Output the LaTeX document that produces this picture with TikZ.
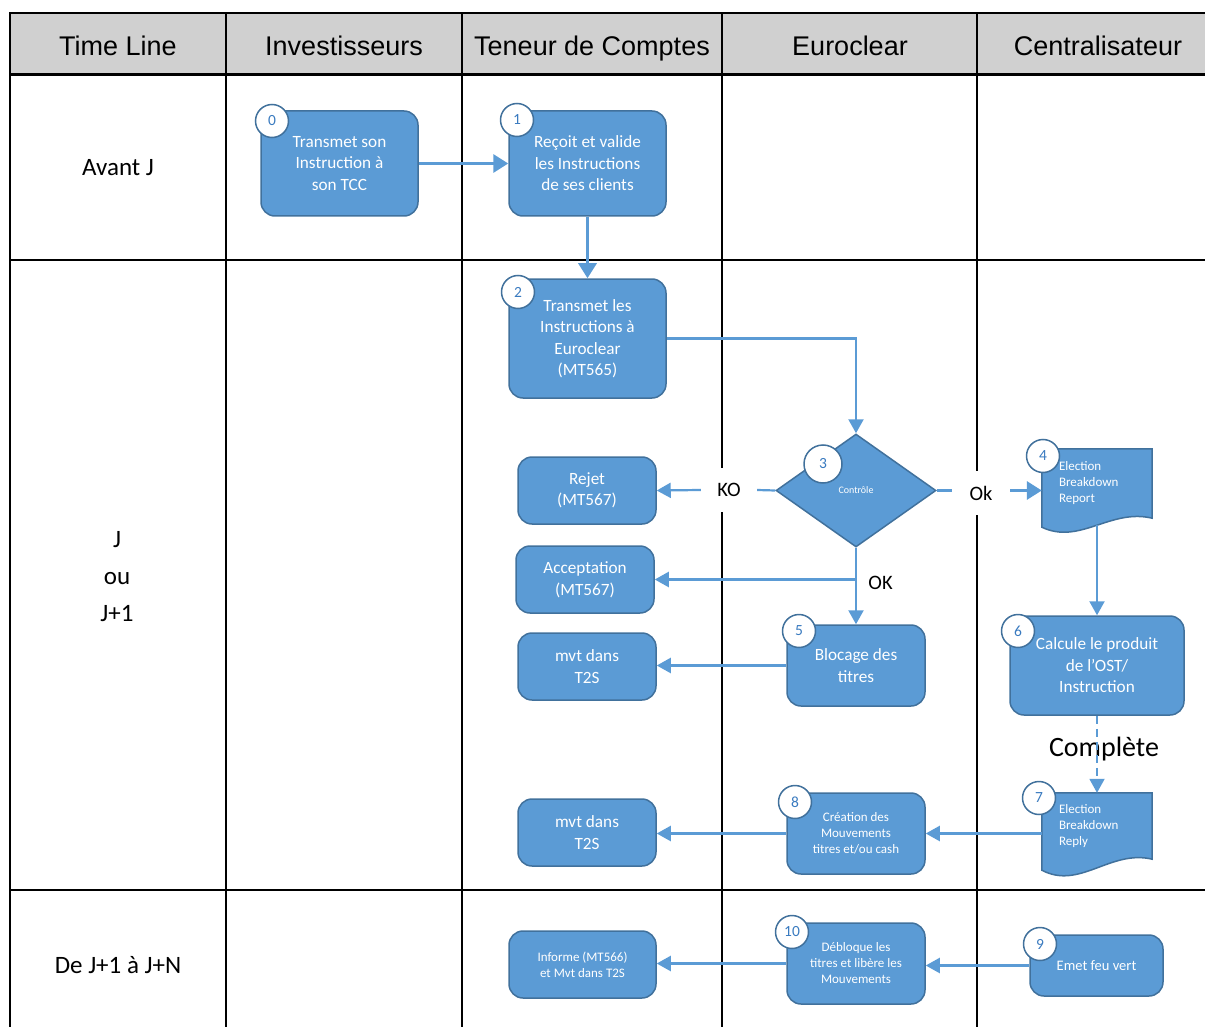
\documentclass[tikz,border=0pt]{standalone}
\usepackage{fontspec}
\setmainfont{Carlito}
\newfontfamily\hdfont{Liberation Sans}
\usetikzlibrary{arrows.meta,shapes.geometric,backgrounds}
\definecolor{blu}{HTML}{5B9BD5}
\definecolor{bdr}{HTML}{41719C}
\definecolor{numc}{HTML}{3A7BC0}
\definecolor{hdgray}{HTML}{D0D0D0}

\begin{document}
\begin{tikzpicture}[x=1pt, y=-1pt,
  box/.style={rectangle, rounded corners=14pt, draw=bdr, fill=blu, line width=1.5pt, text=white, align=center, inner sep=0pt},
  doc/.style={rectangle, draw=none, text=white, align=left, inner sep=0pt, text width=76pt, font=\fontsize{13}{16}\selectfont},
  dec/.style={diamond, draw=bdr, fill=blu, line width=1.5pt, text=white, inner sep=0pt, minimum width=160pt, minimum height=113pt, font=\fontsize{10}{12}\selectfont},
  num/.style={circle, draw=bdr, fill=white, line width=1.5pt, text=numc, minimum size=33pt, inner sep=0pt, font=\fontsize{15.5}{15.5}\selectfont},
  big/.style={font=\fontsize{17.2}{21.5}\selectfont},
  small/.style={font=\fontsize{13}{16}\selectfont},
  head/.style={font=\hdfont\fontsize{27}{30}\selectfont, text height=20pt, text depth=6pt},
  rowlbl/.style={align=center, font=\fontsize{25}{37}\selectfont},
  lbl/.style={fill=white, inner sep=0pt, minimum width=56pt, minimum height=44pt, font=\fontsize{20.5}{24}\selectfont},
  flow/.style={draw=blu, line width=2.2pt, -{Triangle[length=14pt,width=15pt]}},
  bigflow/.style={draw=blu, line width=3.2pt, -{Triangle[length=15pt,width=18pt]}},
  tbl/.style={draw=black, line width=2pt}]
  \useasboundingbox (0,0) rectangle (1205,1027);

  \fill[hdgray] (10,13) rectangle (1205,75);
  \draw[tbl] (1205,13) -- (10,13) -- (10,1027);
  \foreach \x in {226,462,722,977}
    \draw[tbl] (\x,13) -- (\x,1027);
  \draw[tbl, line width=3pt] (10,75) -- (1205,75);
  \foreach \y in {260,890}
    \draw[tbl] (10,\y) -- (1205,\y);

  \node[head] (hTime) at (118,49) {Time Line};
  \node[head] (hInv) at (344,49) {Investisseurs};
  \node[head] (hTcc) at (592,49) {Teneur de Comptes};
  \node[head] (hEuro) at (850,49) {Euroclear};
  \node[head] (hCent) at (1098,49) {Centralisateur};

  \node[rowlbl] (rAvant) at (118,168) {Avant J};
  \node[rowlbl] (rJour) at (117,577) {J\\ou\\J+1};
  \node[rowlbl] (rApres) at (118,965) {De J+1 à J+N};

  \node[box, big, minimum width=157pt, minimum height=105pt] (n0) at (339.5,163.5) {Transmet son\\Instruction à\\son TCC};
  \node[box, big, minimum width=157pt, minimum height=105pt] (n1) at (587.5,163.5) {Reçoit et valide\\les Instructions\\de ses clients};
  \node[box, big, minimum width=157pt, minimum height=119pt] (n2) at (587.5,338.5) {Transmet les\\Instructions à\\Euroclear\\(MT565)};
  \node[dec] (n3) at (856,490.5) {Contrôle};
  \node[doc, minimum width=110pt, minimum height=69pt] (n4) at (1097,483.5) {Election\\Breakdown\\Report};
  \node[box, big, minimum width=138pt, minimum height=67pt] (rejet) at (587,490.5) {Rejet\\(MT567)};
  \node[box, big, minimum width=138pt, minimum height=67pt] (accept) at (585,579.5) {Acceptation\\(MT567)};
  \node[box, big, minimum width=138pt, minimum height=67pt] (mvt1) at (587,666.5) {mvt dans\\T2S};
  \node[box, big, minimum width=138pt, minimum height=81pt] (n5) at (856,665.5) {Blocage des\\titres};
  \node[box, big, minimum width=174pt, minimum height=99pt] (n6) at (1097,665.5) {Calcule le produit\\de l'OST/\\Instruction};
  \node[doc, minimum width=110pt, minimum height=66pt] (n7) at (1097,826) {Election\\Breakdown\\Reply};
  \node[box, small, minimum width=138pt, minimum height=81pt] (n8) at (856,833.5) {Création des\\Mouvements\\titres et/ou cash};
  \node[box, big, minimum width=138pt, minimum height=67pt] (mvt2) at (587,832.5) {mvt dans\\T2S};
  \node[box, small, minimum width=133pt, minimum height=61pt, font=\fontsize{14.5}{18}\selectfont] (n9) at (1096.5,965.5) {Emet feu vert};
  \node[box, small, minimum width=138pt, minimum height=81pt] (n10) at (856,963.5) {Débloque les\\titres et libère les\\Mouvements};
  \node[box, small, minimum width=147pt, minimum height=67pt] (info) at (582.5,964.5) {Informe (MT566)\\et Mvt dans T2S};

  \begin{scope}[on background layer]
    \draw[draw=bdr, fill=blu, line width=1.5pt] (n4.north west) -- (n4.north east) -- (n4.south east)
      .. controls +(-42,-10) and +(38,18) .. ([yshift=-9pt]n4.south west) -- cycle;
    \draw[draw=bdr, fill=blu, line width=1.5pt] (n7.north west) -- (n7.north east) -- (n7.south east)
      .. controls +(-42,-10) and +(38,20) .. ([yshift=-11pt]n7.south west) -- cycle;
  \end{scope}

  \node[lbl] (ko) at (729,490) {KO};
  \node[lbl, minimum width=58pt] (ok) at (981,493) {Ok};
  \node[font=\fontsize{28}{30}\selectfont] (cpl) at (1104,749) {Complète};

  \draw[bigflow] (n0.east) -- (n1.west);
  \draw[bigflow] (n1.south) -- (n2.north);
  \draw[flow] (n2.east) -| (n3.north);
  \draw[draw=blu, line width=2.2pt] (n3.west) -- (ko.east);
  \draw[flow] (ko.west) -- (rejet.east);
  \draw[draw=blu, line width=3.2pt] (n3.east) -- (n3.east -| ok.west);
  \draw[bigflow] (n3.east -| ok.east) -- (n3.east -| n4.west);
  \draw[flow] (n3.south) -- (n5.north) node[pos=0.46, right=8pt, font=\fontsize{20.5}{24}\selectfont] {OK};
  \draw[flow] (n3.south |- accept.east) -- (accept.east);
  \draw[flow] (n5.west) -- (n5.west -| mvt1.east);
  \draw[flow] ([yshift=-7pt]n4.south) -- (n6.north);
  \draw[flow, line width=1.8pt, dash pattern=on 8pt off 5pt] (n6.south) -- (n7.north);
  \draw[flow] (n8.east -| n7.west) -- (n8.east);
  \draw[flow] (n8.west) -- (n8.west -| mvt2.east);
  \draw[flow] (n9.west) -- (n9.west -| n10.east);
  \draw[flow] (n10.west) -- (n10.west -| info.east);

  \node[num] (b0) at (272,121) {0};
  \node[num] (b1) at (517,120) {1};
  \node[num] (b2) at (518,292) {2};
  \node[num, minimum size=38pt] (b3) at (823,464) {3};
  \node[num] (b4) at (1043,456) {4};
  \node[num] (b5) at (799,631) {5};
  \node[num] (b6) at (1018,631) {6};
  \node[num] (b7) at (1039,798) {7};
  \node[num] (b8) at (795,802) {8};
  \node[num] (b9) at (1040,944) {9};
  \node[num] (b10) at (792,932) {10};
\end{tikzpicture}
\end{document}
